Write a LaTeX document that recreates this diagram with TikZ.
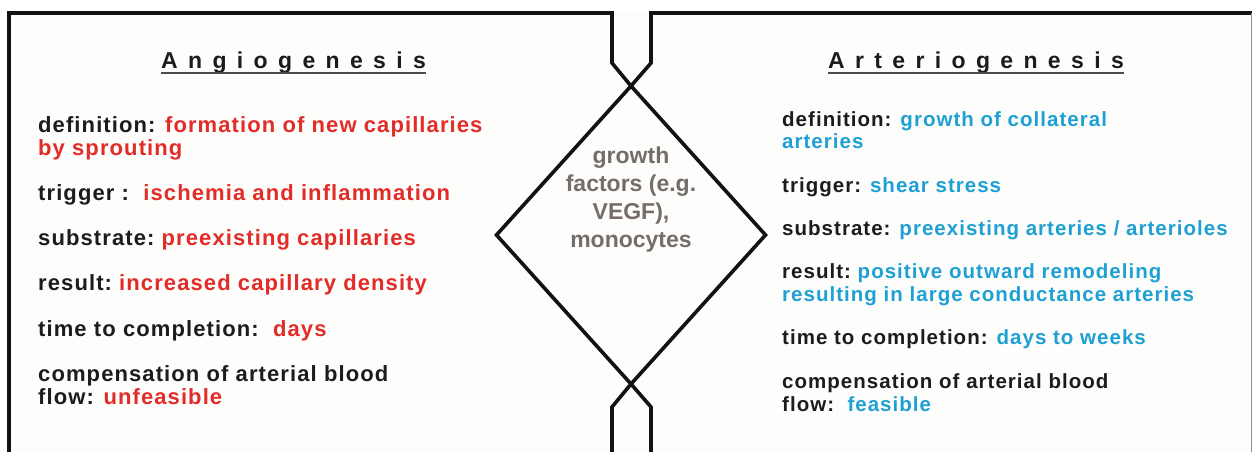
\documentclass[tikz,border=0pt]{standalone}
\usepackage{fontspec}
\setmainfont{Liberation Sans}
\newfontfamily\bodyfont{Liberation Sans}[LetterSpace=5]
\newfontfamily\titlefont{Liberation Sans}[LetterSpace=45]
\usetikzlibrary{shapes.geometric}
\definecolor{angred}{RGB}{226,44,40}
\definecolor{artblue}{RGB}{30,160,212}
\definecolor{gfgray}{RGB}{118,108,108}
\definecolor{ink}{RGB}{28,28,28}
\definecolor{frameink}{RGB}{18,18,18}
\definecolor{paper}{RGB}{253,253,251}
\begin{document}
\begin{tikzpicture}[x=1bp,y=-1bp,
  lbl/.style={anchor=base west, inner sep=0pt, text=ink,
    font=\bodyfont\bfseries\fontsize{22bp}{24bp}\selectfont},
  rlbl/.style={anchor=base west, inner sep=0pt, text=ink,
    font=\bodyfont\bfseries\fontsize{20.5bp}{23bp}\selectfont},
  ttl/.style={anchor=base west, inner sep=0pt, text=ink,
    font=\titlefont\bfseries\fontsize{23bp}{26bp}\selectfont},
  uline/.style={draw=black!70, line width=2bp},
  frame/.style={draw=frameink, line width=3.6bp, line join=miter},
  dia/.style={shape=diamond, draw=frameink, line width=3.6bp, inner sep=0pt,
    outer sep=0pt, minimum width=269bp, minimum height=298bp},
  gf/.style={align=center, inner sep=0pt, text=gfgray,
    font=\bfseries\fontsize{23bp}{28bp}\selectfont}]
\useasboundingbox (0,0) rectangle (1252,452);
\fill[white] (0,0) rectangle (1252,452);
\fill[paper] (9,13) rectangle (1251,452);

% center diamond
\node[dia] (dia) at (631,235) {};
\node[gf] (gf) at (631,200) {growth\\factors (e.g.\\VEGF),\\monocytes};

% frames
\draw[frame] (9,452) -- (9,13) -- (612,13) -- (612,63) -- (dia.north);
\draw[frame] (dia.south) -- (612,407) -- (612,452);
\draw[frame] (1252,13) -- (651,13) -- (651,63) -- (dia.north);
\draw[frame] (dia.south) -- (651,407) -- (651,452);
\draw[draw=black!45, line width=1bp] (1251,13) -- (1251,452);

% titles
\node[ttl] (angt) at (161,69) {Angiogenesis};
\draw[uline] ([yshift=-4bp]angt.base west) -- ([yshift=-4bp]angt.base east);
\node[ttl] (artt) at (828,69) {Arteriogenesis};
\draw[uline] ([yshift=-4bp]artt.base west) -- ([yshift=-4bp]artt.base east);

% left column
\node[lbl] (la1) at (38,133) {definition: \textcolor{angred}{formation of new capillaries}};
\node[lbl, text=angred] (la2) at (38,156) {by sprouting};
\node[lbl] (lb) at (38,201) {trigger :\ \ \textcolor{angred}{ischemia and inflammation}};
\node[lbl] (lc) at (38,246) {substrate:\ \textcolor{angred}{preexisting capillaries}};
\node[lbl] (ld) at (38,291) {result:\ \textcolor{angred}{increased capillary density}};
\node[lbl] (le) at (38,337) {time to completion:\ \ \textcolor{angred}{days}};
\node[lbl] (lf1) at (38,382) {compensation of arterial blood};
\node[lbl] (lf2) at (38,405) {flow: \textcolor{angred}{unfeasible}};

% right column
\node[rlbl] (ra1) at (782,127) {definition: \textcolor{artblue}{growth of collateral}};
\node[rlbl, text=artblue] (ra2) at (782,149) {arteries};
\node[rlbl] (rb) at (782,193) {trigger: \textcolor{artblue}{shear stress}};
\node[rlbl] (rc) at (782,236) {substrate: \textcolor{artblue}{preexisting arteries / arterioles}};
\node[rlbl] (rd1) at (782,279) {result:\ \textcolor{artblue}{positive outward remodeling}};
\node[rlbl, text=artblue] (rd2) at (782,302) {resulting in large conductance arteries};
\node[rlbl] (re) at (782,345) {time to completion: \textcolor{artblue}{days to weeks}};
\node[rlbl] (rf1) at (782,389) {compensation of arterial blood};
\node[rlbl] (rf2) at (782,412) {flow:\ \ \textcolor{artblue}{feasible}};
\end{tikzpicture}
\end{document}
